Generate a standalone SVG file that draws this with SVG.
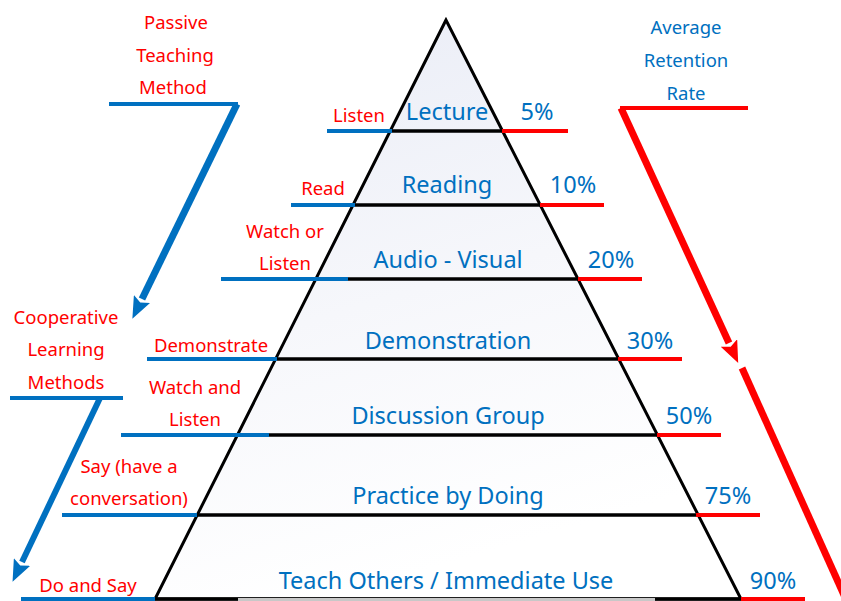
<svg xmlns="http://www.w3.org/2000/svg" width="841" height="601" viewBox="0 0 841 601">
<defs>
<linearGradient id="fillg" x1="0" y1="0" x2="0.3" y2="1">
<stop offset="0" stop-color="#e9ecf6"/>
<stop offset="0.55" stop-color="#f6f7fb"/>
<stop offset="1" stop-color="#ffffff"/>
</linearGradient>
<marker id="ab" markerUnits="userSpaceOnUse" markerWidth="22" markerHeight="18" refX="0" refY="9" orient="auto">
<path d="M0,0 L22,9 L0,18 L4,9 z" fill="#0070c0"/>
</marker>
<marker id="ar" markerUnits="userSpaceOnUse" markerWidth="22" markerHeight="18" refX="0" refY="9" orient="auto">
<path d="M0,0 L22,9 L0,18 L4,9 z" fill="#ff0000"/>
</marker>
</defs>
<style>
.lvl{font-family:"Noto Sans","Open Sans",sans-serif;font-size:23.5px;fill:#0070c0;text-anchor:middle}
.lab{font-family:"Noto Sans","Open Sans",sans-serif;font-size:18.5px;fill:#ff0000;text-anchor:middle}
.hd{font-family:"Noto Sans","Open Sans",sans-serif;font-size:18.5px;text-anchor:middle}
.blk{stroke:#000;stroke-width:3.5;fill:none}
.bl{stroke:#0070c0;stroke-width:4;fill:none}
.rd{stroke:#ff0000;stroke-width:4;fill:none}
</style>
<g id="pyramid">
<polygon points="446,20 155,599 741,599" fill="url(#fillg)" stroke="#000" stroke-width="3"/>
<line class="blk" x1="392" y1="131" x2="502" y2="131"/>
<line class="blk" x1="355" y1="205" x2="540" y2="205"/>
<line class="blk" x1="317" y1="279" x2="578" y2="279"/>
<line class="blk" x1="277" y1="359" x2="618" y2="359"/>
<line class="blk" x1="238" y1="435" x2="657" y2="435"/>
<line class="blk" x1="197" y1="515" x2="696" y2="515"/>
<line class="blk" x1="155" y1="599" x2="741" y2="599"/>
<line x1="238" y1="599.5" x2="655" y2="599.5" stroke="#c8c8c8" stroke-width="3"/>
</g>
<g id="levels">
<text class="lvl" x="447" y="120">Lecture</text>
<text class="lvl" x="447" y="193">Reading</text>
<text class="lvl" x="448" y="268">Audio - Visual</text>
<text class="lvl" x="448" y="349">Demonstration</text>
<text class="lvl" x="448" y="424">Discussion Group</text>
<text class="lvl" x="448" y="504">Practice by Doing</text>
<text class="lvl" x="446" y="589">Teach Others / Immediate Use</text>
</g>
<g id="rates">
<line class="rd" x1="502" y1="131" x2="568" y2="131"/>
<line class="rd" x1="540" y1="205" x2="604" y2="205"/>
<line class="rd" x1="578" y1="279" x2="642" y2="279"/>
<line class="rd" x1="618" y1="359" x2="682" y2="359"/>
<line class="rd" x1="657" y1="435" x2="721" y2="435"/>
<line class="rd" x1="696" y1="515" x2="760" y2="515"/>
<line class="rd" x1="741" y1="599" x2="805" y2="599"/>
<text class="lvl" x="537" y="120">5%</text>
<text class="lvl" x="573" y="193">10%</text>
<text class="lvl" x="611" y="268">20%</text>
<text class="lvl" x="650" y="349">30%</text>
<text class="lvl" x="689" y="424">50%</text>
<text class="lvl" x="728" y="504">75%</text>
<text class="lvl" x="773" y="589">90%</text>
</g>
<g id="activities">
<line class="bl" x1="327" y1="131" x2="392" y2="131"/>
<line class="bl" x1="291" y1="205" x2="355" y2="205"/>
<line class="bl" x1="221" y1="279" x2="348" y2="279"/>
<line class="bl" x1="147" y1="359" x2="277" y2="359"/>
<line class="bl" x1="121" y1="435" x2="269" y2="435"/>
<line class="bl" x1="62" y1="515" x2="197" y2="515"/>
<line class="bl" x1="21" y1="599" x2="155" y2="599"/>
<text class="lab" x="359" y="122">Listen</text>
<text class="lab" x="323" y="195">Read</text>
<text class="lab" x="285" y="238">Watch or</text>
<text class="lab" x="285" y="270">Listen</text>
<text class="lab" x="211" y="352">Demonstrate</text>
<text class="lab" x="195" y="394">Watch and</text>
<text class="lab" x="195" y="426">Listen</text>
<text class="lab" x="129" y="473">Say (have a</text>
<text class="lab" x="129" y="505">conversation)</text>
<text class="lab" x="88" y="592">Do and Say</text>
</g>
<g id="passive">
<text class="hd" fill="#ff0000" x="176" y="29">Passive</text>
<text class="hd" fill="#ff0000" x="175" y="62">Teaching</text>
<text class="hd" fill="#ff0000" x="173" y="94">Method</text>
</g>
<g id="cooperative">
<text class="hd" fill="#ff0000" x="66" y="324">Cooperative</text>
<text class="hd" fill="#ff0000" x="66" y="356">Learning</text>
<text class="hd" fill="#ff0000" x="66" y="389">Methods</text>
</g>
<g id="retention">
<text class="hd" fill="#0070c0" x="686" y="34">Average</text>
<text class="hd" fill="#0070c0" x="686" y="67">Retention</text>
<text class="hd" fill="#0070c0" x="686" y="100">Rate</text>
</g>
<g id="connectors">
<line class="bl" x1="109" y1="104" x2="238" y2="104"/>
<line x1="237" y1="104" x2="142" y2="299" stroke="#0070c0" stroke-width="7" marker-end="url(#ab)"/>
<line class="bl" x1="10" y1="398" x2="123" y2="398"/>
<line x1="100" y1="398" x2="22" y2="562" stroke="#0070c0" stroke-width="6" marker-end="url(#ab)"/>
<line class="rd" x1="620" y1="108" x2="748" y2="108"/>
<line x1="621" y1="108" x2="729" y2="343" stroke="#ff0000" stroke-width="7" marker-end="url(#ar)"/>
<line x1="742" y1="368" x2="848" y2="604" stroke="#ff0000" stroke-width="7"/>
</g>
</svg>
